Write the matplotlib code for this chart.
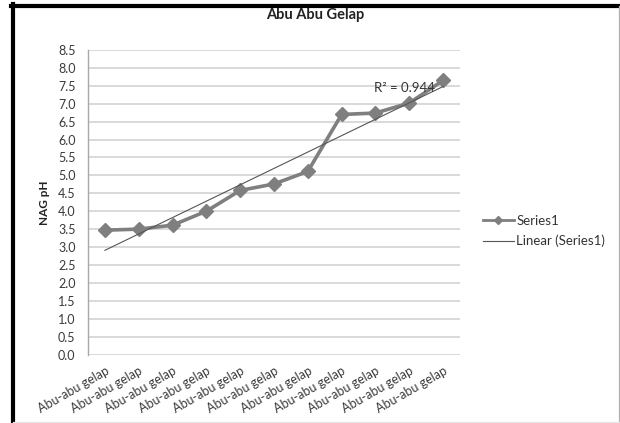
import numpy as np
import matplotlib
matplotlib.use("Agg")
import matplotlib.pyplot as plt
from matplotlib.lines import Line2D

plt.rcParams['font.family'] = ['Lato', 'DejaVu Sans']

# Data
categories = ["Abu-abu gelap"] * 11
nag_ph = [3.47, 3.50, 3.61, 4.00, 4.58, 4.76, 5.11, 6.70, 6.74, 7.02, 7.65]
y_ticks = [0.0, 0.5, 1.0, 1.5, 2.0, 2.5, 3.0, 3.5, 4.0, 4.5, 5.0, 5.5, 6.0, 6.5, 7.0, 7.5, 8.0, 8.5]
title = "Abu Abu Gelap"
y_label = "NAG pH"
series_name = "Series1"
trend_name = "Linear (Series1)"

x = np.arange(1, len(nag_ph) + 1)
y = np.array(nag_ph)

# Linear trend and its coefficient of determination
slope, intercept = np.polyfit(x, y, 1)
trend = slope * x + intercept
r2 = 1 - np.sum((y - trend) ** 2) / np.sum((y - y.mean()) ** 2)

W, H = 620, 423
fig = plt.figure(figsize=(W / 100, H / 100), dpi=100)
fig.patch.set_facecolor('white')

ax = fig.add_axes([88 / W, 1 - 354.5 / H, 372 / W, (354.5 - 50) / H])
ax.set_xlim(0.5, len(nag_ph) + 0.5)
ax.set_ylim(0, 8.5)
ax.set_yticks(y_ticks)
ax.set_yticklabels([f"{v:.1f}" for v in y_ticks])
ax.set_xticks(x)
ax.set_xticklabels(categories, rotation=30, ha='right', rotation_mode='anchor')
ax.tick_params(axis='both', length=0, labelsize=9, colors='#3a3a3a')
ax.tick_params(axis='y', pad=9)
ax.tick_params(axis='x', pad=7)
ax.yaxis.grid(True, color='#d0d0d0', linewidth=1.1)
ax.set_axisbelow(True)
for side in ['top', 'right', 'bottom']:
    ax.spines[side].set_visible(False)
ax.spines['left'].set_color('#a8a8a8')
ax.spines['left'].set_linewidth(1.0)

ax.plot(x, y, color='#7f7f7f', linewidth=2.6, marker='D', markersize=7,
        markerfacecolor='#7f7f7f', markeredgecolor='#7f7f7f', zorder=3)
ax.plot(x, trend, color='#555555', linewidth=0.8, zorder=4)

ax.text(9.85, 7.43, f"R² = {r2:.3f}", fontsize=9.5, color='#333333',
        ha='center', va='center', zorder=5)

ax.set_ylabel(y_label, fontsize=8.5, fontweight='bold', color='#222222', labelpad=6)

handles = [
    Line2D([], [], color='#7f7f7f', linewidth=2.0, marker='D', markersize=4,
           markerfacecolor='#7f7f7f', markeredgecolor='#7f7f7f'),
    Line2D([], [], color='#555555', linewidth=0.8),
]
leg = ax.legend(handles, [series_name, trend_name], loc='center left',
                bbox_to_anchor=(478 / W, 1 - 231 / H),
                bbox_transform=fig.transFigure, frameon=False, fontsize=9.5,
                handlelength=2.3, handletextpad=0.2, labelspacing=0.6,
                borderaxespad=0)
for t in leg.get_texts():
    t.set_color('#333333')

fig.text(315 / W, 1 - 15 / H, title, ha='center', va='center',
         fontsize=10.5, fontweight='bold', color='#222222')

# Chart frame
fig.add_artist(Line2D([13 / W, 13 / W], [0, 1 - 4 / H], transform=fig.transFigure,
                      color='black', linewidth=3.0))
fig.add_artist(Line2D([11 / W, 1], [1 - 6 / H, 1 - 6 / H], transform=fig.transFigure,
                      color='black', linewidth=3.0))
fig.add_artist(Line2D([618.5 / W, 618.5 / W], [0, 1 - 6 / H], transform=fig.transFigure,
                      color='#b0b0b0', linewidth=0.9))
fig.add_artist(Line2D([13 / W, 1], [1.5 / H, 1.5 / H], transform=fig.transFigure,
                      color='#e6e6e6', linewidth=0.9))

fig.savefig('out.png', dpi=100, facecolor='white')
